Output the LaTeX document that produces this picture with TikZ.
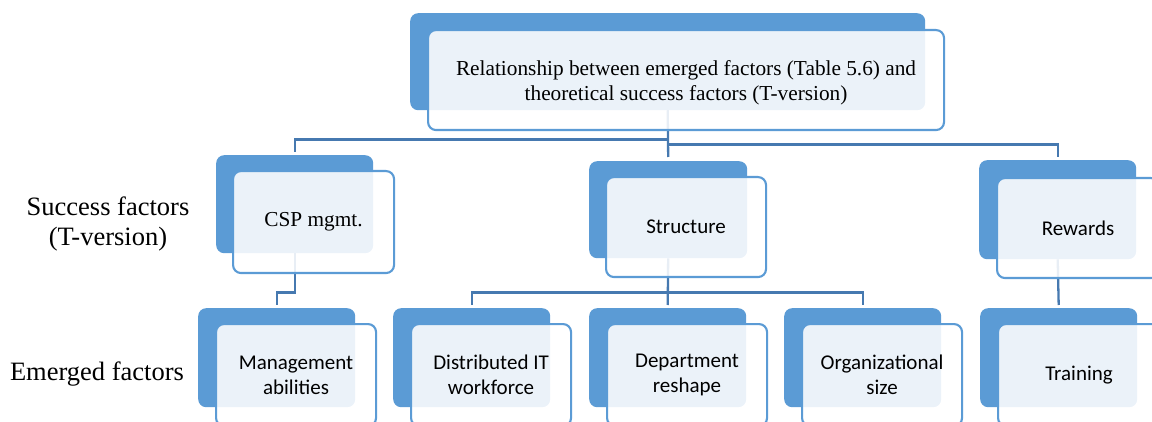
\documentclass[tikz,border=0pt]{standalone}
\usepackage{fontspec}
\setmainfont{Liberation Serif}
\newfontfamily\calib{Carlito}
\usetikzlibrary{calc}
\definecolor{accent}{RGB}{91,155,213}
\definecolor{linkc}{RGB}{70,121,176}
\tikzset{
  backbox/.style={fill=accent, rounded corners=8pt, inner sep=0pt, anchor=north west,
    minimum width=157pt, minimum height=98pt},
  frontbox/.style={draw=accent, line width=2.1pt, fill=white, fill opacity=0.88,
    text opacity=1, text=black, rounded corners=8pt, inner sep=0pt, anchor=north west,
    minimum width=160pt, minimum height=101pt, align=center},
  conn/.style={draw=linkc, line width=2.3pt},
  serif/.style={font=\fontsize{21.3}{25}\selectfont},
  sans/.style={font=\calib\fontsize{21}{25}\selectfont},
  sidelabel/.style={font=\fontsize{26.5}{30}\selectfont, align=center, inner sep=0pt},
}
\begin{document}
\begin{tikzpicture}[x=1pt, y=-1pt]
\useasboundingbox (0,0) rectangle (1152,422);
\clip (0,0) rectangle (1152,422);

% back (filled) boxes
\node[backbox, minimum width=515pt, minimum height=97pt] (top-b) at (410,13) {};
\node[backbox] (csp-b) at (216,155) {};
\node[backbox, minimum width=158pt, minimum height=97pt] (struct-b) at (589,161) {};
\node[backbox, minimum height=99pt] (rew-b) at (979,160) {};
\node[backbox, minimum height=99pt] (mgmt-b) at (198,308) {};
\node[backbox, minimum height=99pt] (dist-b) at (393,308) {};
\node[backbox, minimum height=99pt] (dept-b) at (589,308) {};
\node[backbox, minimum height=99pt] (org-b) at (784,308) {};
\node[backbox, minimum height=99pt] (train-b) at (980,308) {};

% connectors
\draw[conn] (top-b.south) -- ++(0,29) -| ($(csp-b.north)+(0,-3)$);
\draw[conn] (top-b.south) -- ++(0,34) -| ($(rew-b.north)+(0,-3)$);
\draw[conn] (top-b.south) -- ($(struct-b.north)+(0,-4)$);
\draw[conn] (csp-b.south) -- ++(0,39) -| ($(mgmt-b.north)+(0,-3)$);
\draw[conn] (struct-b.south) -- ($(dept-b.north)+(0,-3)$);
\draw[conn] ($(dist-b.north)+(0,-3)$) |- ($(struct-b.south)+(0,34)$) -| ($(org-b.north)+(0,-3)$);
\draw[conn] (rew-b.south) -- ($(train-b.north)+(0,-3)$);

% front (outlined) boxes with their texts
\node[frontbox, minimum width=516pt, minimum height=100pt] (top) at (427,29) {};
\node[serif, align=center, inner sep=0pt] (top-text) at ($(top.center)+(0,3)$)
  {Relationship between emerged factors (Table 5.6) and\\theoretical success factors (T-version)};
\node[frontbox, serif, minimum width=161pt, minimum height=102pt] (csp) at (232,170) {CSP mgmt.};
\node[frontbox, sans, minimum height=100pt] (struct) at (605,176) {Structure};
\node[frontbox, sans, minimum width=162pt, minimum height=100pt] (rew) at (996,177) {Rewards};
\node[frontbox, sans, minimum height=102pt] (mgmt) at (215,323) {Management\\abilities};
\node[frontbox, sans, minimum height=102pt] (dist) at (410,323) {Distributed IT\\workforce};
\node[frontbox, sans, minimum height=102pt] (dept) at (606,323) {Department\\reshape};
\node[frontbox, sans, minimum height=102pt] (org) at (801,323) {Organizational\\size};
\node[frontbox, sans, minimum width=162pt, minimum height=102pt] (train) at (997,323) {Training};

% level labels
\node[sidelabel] (lvl-success) at (108,224) {Success factors\\(T-version)};
\node[sidelabel] (lvl-emerged) at (97,374) {Emerged factors};
\end{tikzpicture}
\end{document}
